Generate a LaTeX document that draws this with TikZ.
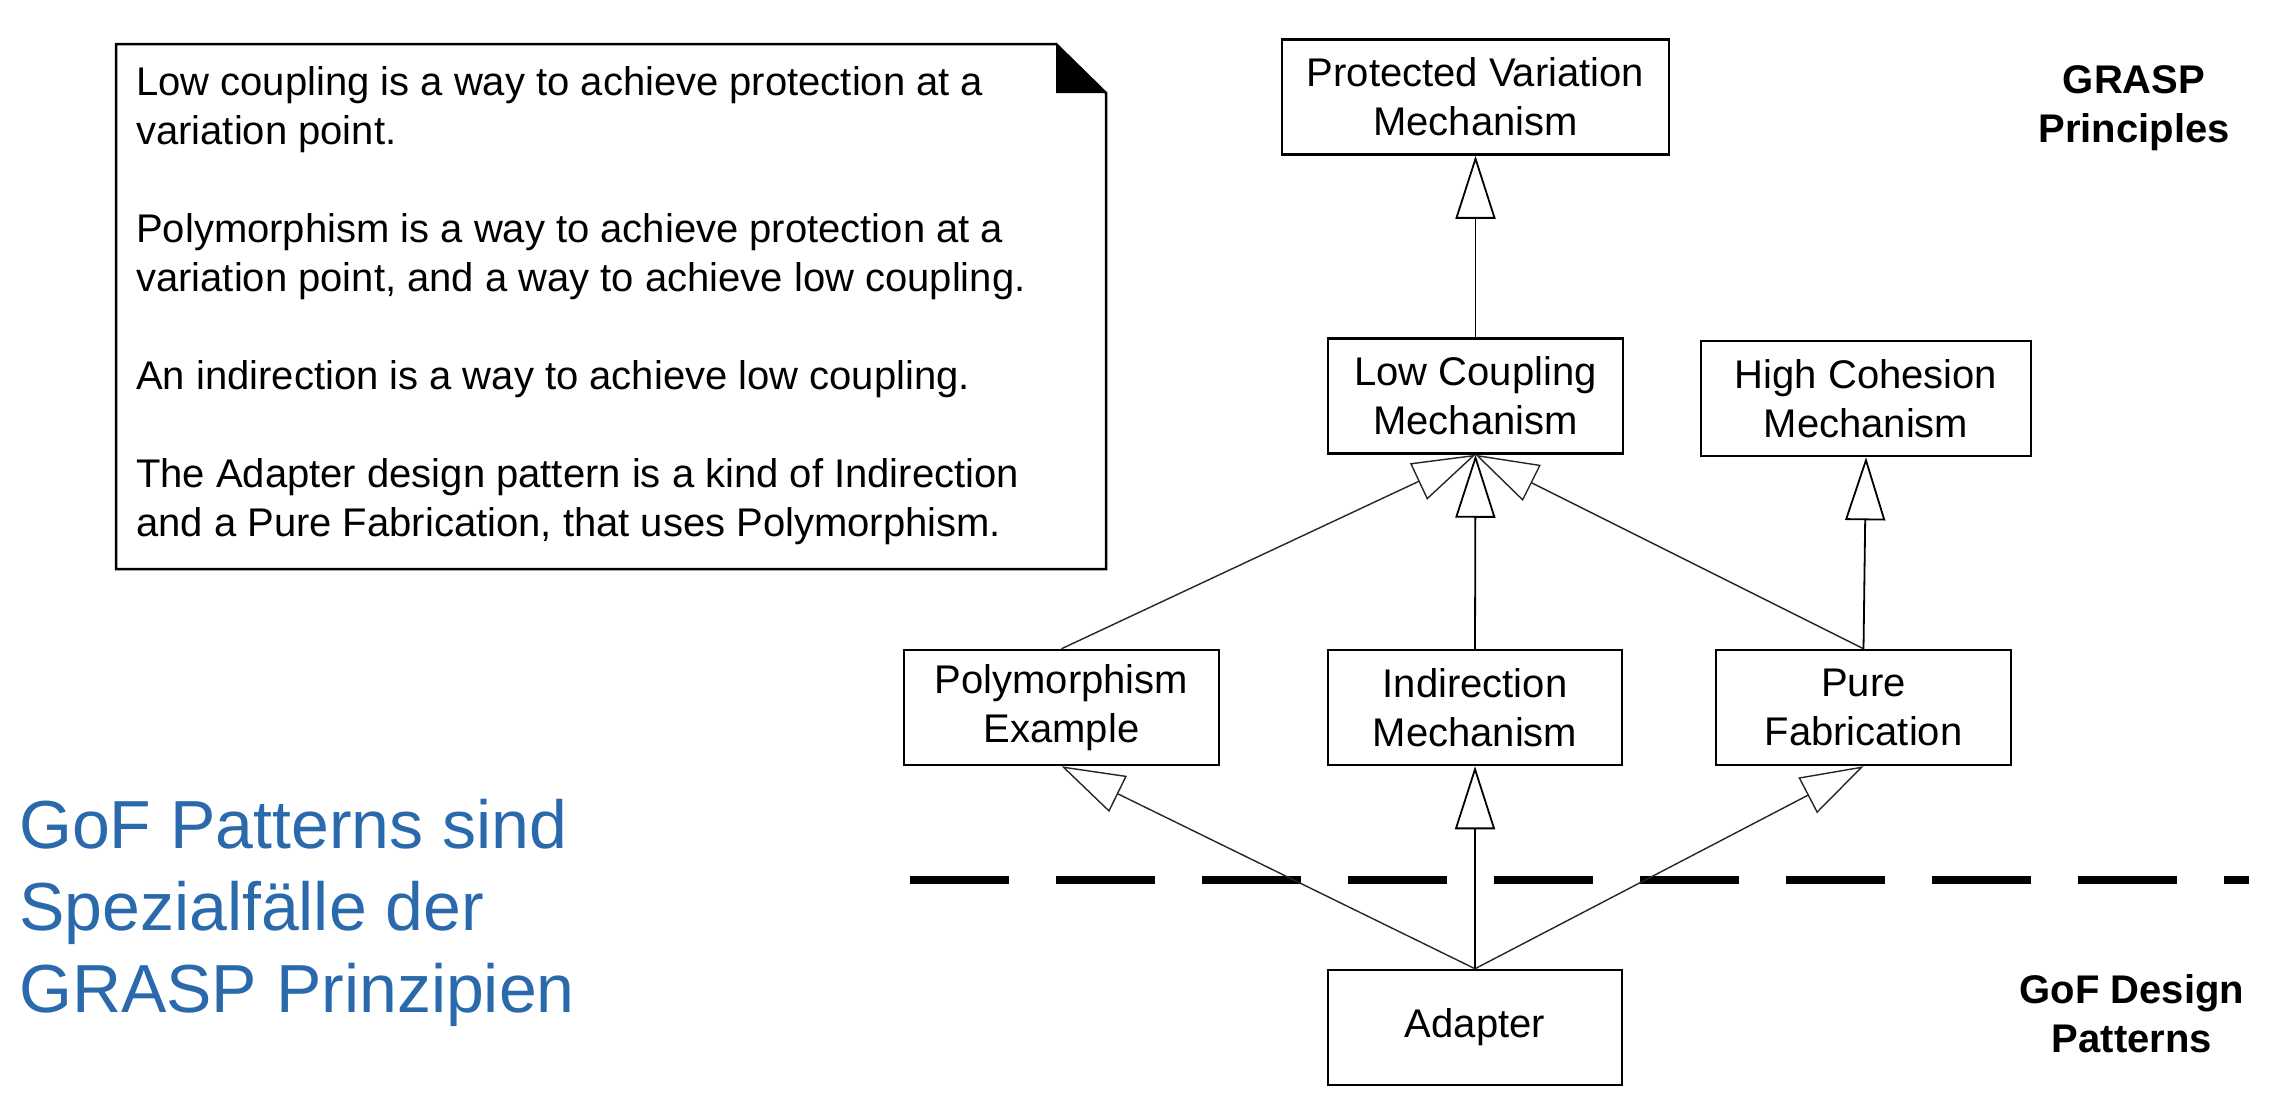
\documentclass[tikz,border=0pt]{standalone}
\usepackage{fontspec}
\setmainfont{Liberation Sans}
\usetikzlibrary{arrows.meta}
\definecolor{gofblue}{RGB}{41,105,172}
\begin{document}
\begin{tikzpicture}[x=1pt,y=-1pt,
 box/.style={draw, line width=2.5pt, minimum height=115pt, align=center, inner sep=0pt, font=\fontsize{40}{49}\selectfont},
 gen/.style={-{Triangle[length=63pt,width=40pt,fill=white]}, line width=1.8pt},
 gendiag/.style={gen, line width=1.4pt, draw=black!85},
 plain/.style={inner sep=0pt, font=\fontsize{40}{49}\selectfont},
 heading/.style={plain, anchor=north, align=center, font=\fontsize{40}{49}\selectfont\bfseries}]
\useasboundingbox[fill=white] (0,0) rectangle (2276,1100);

% note
\draw[line width=2.5pt] (116,44) -- (1056,44) -- (1106,93) -- (1106,569) -- (116,569) -- cycle;
\fill (1056,44) -- (1056,93) -- (1106,93) -- cycle;
\node[plain, anchor=north west, align=left] (notetext) at (136,66)
 {Low coupling is a way to achieve protection at a\\variation point.\\[49pt]Polymorphism is a way to achieve protection at a\\variation point, and a way to achieve low coupling.\\[49pt]An indirection is a way to achieve low coupling.\\[49pt]The Adapter design pattern is a kind of Indirection\\and a Pure Fabrication, that uses Polymorphism.};

% boxes
\node[box, minimum width=387pt] (pv) at (1475.5,97) {Protected Variation\\Mechanism};
\node[box, minimum width=295pt] (lc) at (1475.5,396) {Low Coupling\\Mechanism};
\node[box, minimum width=330pt] (hc) at (1866,398.5) {High Cohesion\\Mechanism};
\node[box, minimum width=315pt] (poly) at (1061.5,707.5) {Polymorphism\\Example};
\node[box, minimum width=294pt] (ind) at (1475,707.5) {Indirection\\Mechanism};
\node[box, minimum width=295pt] (pf) at (1863.5,707.5) {Pure\\Fabrication};
\node[box, minimum width=294pt] (ad) at (1475,1027.5) {Adapter};

% dashed separator
\coordinate (dl) at (910,880);
\coordinate (dr) at (2249,880);
\draw[line width=8pt, dash pattern=on 99pt off 47pt] (dl) -- (dr);

% connectors
\draw[gen] (lc.north) -- (pv.south);
\draw[gen] (ind.north) -- (lc.south);
\draw[gendiag] (poly.north) -- (lc.south);
\draw[gendiag] (pf.north) -- (lc.south);
\draw[gen] (pf.north) -- (hc.south);
\draw[gen] (ad.north) -- (ind.south);
\draw[gendiag] (ad.north) -- (poly.south);
\draw[gendiag] (ad.north) -- (pf.south);

% labels
\node[heading] (grasp) at (2134,65) {GRASP\\Principles};
\node[heading] (gof) at (2132,974) {GoF Design\\Patterns};
\node[plain, anchor=north west, align=left, text=gofblue, font=\fontsize{68}{82}\selectfont] (claim) at (19,799) {GoF Patterns sind\\Spezialfälle der\\GRASP Prinzipien};
\end{tikzpicture}
\end{document}
